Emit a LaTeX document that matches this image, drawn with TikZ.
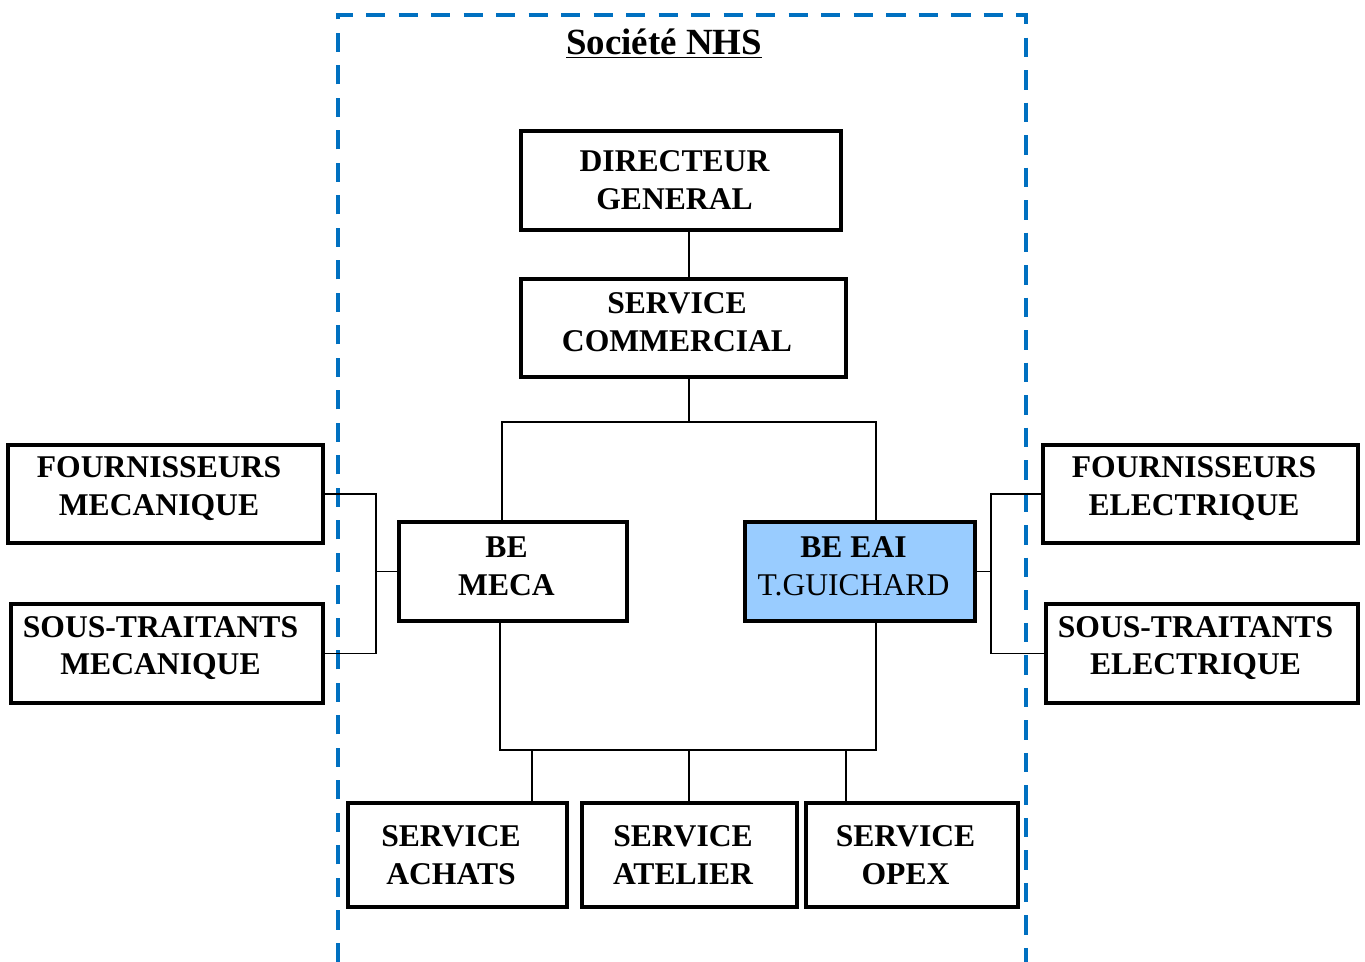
\documentclass[tikz,border=0pt]{standalone}
\usepackage{fontspec}
\setmainfont{Liberation Serif}
\usepackage{tikz}
\usetikzlibrary{positioning}
\definecolor{frameblue}{RGB}{0,112,192}
\definecolor{eaiblue}{RGB}{153,204,255}

\begin{document}
\begin{tikzpicture}[x=0.02cm,y=-0.02cm,
	boxtext/.style={align=center,inner sep=0pt,xshift=-0.13cm,yshift=0.11cm,
		font=\fontsize{18}{21.5}\selectfont\bfseries},
	unit/.style={draw,line width=2pt,inner sep=0pt,label={[boxtext]center:#1}},
	unitlow/.style={draw,line width=2pt,inner sep=0pt,label={[boxtext,yshift=-0.11cm]center:#1}},
	link/.style={line width=1.1pt}]
	\useasboundingbox (0,0) rectangle (1365,962);
	\draw[color=frameblue,line width=2.2pt,dash pattern=on 11pt off 7.5pt] (338,962) -- (338,15) -- (1026,15) -- (1026,962);
	\node[font=\fontsize{21}{24}\selectfont\bfseries] (title) at (664,44) {\underline{Société NHS}};
							\node[unitlow={DIRECTEUR\\GENERAL},minimum width=6.4cm,minimum height=1.98cm] (dg) at (681,180.5) {};
							\node[unit={SERVICE\\COMMERCIAL},minimum width=6.5cm,minimum height=1.96cm] (sc) at (683.5,328) {};
							\node[unit={FOURNISSEURS\\MECANIQUE},minimum width=6.3cm,minimum height=1.96cm] (fm) at (165.5,494) {};
							\node[unit={SOUS-TRAITANTS\\MECANIQUE},minimum width=6.24cm,minimum height=1.98cm] (stm) at (167,653.5) {};
							\node[unit={BE\\MECA},minimum width=4.56cm,minimum height=1.98cm] (bem) at (513,571.5) {};
							\node[unit={BE EAI\\\mdseries T.GUICHARD},fill=eaiblue,minimum width=4.6cm,minimum height=1.98cm] (bee) at (860,571.5) {};
							\node[unit={FOURNISSEURS\\ELECTRIQUE},minimum width=6.3cm,minimum height=1.96cm] (fe) at (1200.5,494) {};
							\node[unit={SOUS-TRAITANTS\\ELECTRIQUE},minimum width=6.24cm,minimum height=1.98cm] (ste) at (1202,653.5) {};
							\node[unitlow={SERVICE\\ACHATS},minimum width=4.38cm,minimum height=2.08cm] (ach) at (457.5,855) {};
							\node[unitlow={SERVICE\\ATELIER},minimum width=4.3cm,minimum height=2.08cm] (atl) at (689.5,855) {};
							\node[unitlow={SERVICE\\OPEX},minimum width=4.24cm,minimum height=2.08cm] (opx) at (912,855) {};
	\coordinate (spine) at (689,422);
	\coordinate (upper left) at (502,422);
	\coordinate (upper right) at (876,422);
	\coordinate (lower left) at (500,750);
	\coordinate (lower right) at (876,750);
	\coordinate (left bar) at (376,576);
	\coordinate (right bar) at (991,566);
					\draw[link] (dg.south -| spine) -- (sc.north -| spine);
					\draw[link] (sc.south -| spine) -- (spine);
					\draw[link] (bem.north -| upper left) -- (upper left) -- (upper right) -- (bee.north -| upper right);
					\draw[link] (bem.south -| lower left) -- (lower left) -- (lower right) -- (bee.south -| lower right);
	\foreach \n/\x in {ach/532,atl/689,opx/846}{
		\coordinate (drop) at (\x,750);
		\draw[link] (drop) -- (\n.north -| drop);
	}
					\draw[link] (fm.east) -- (fm.east -| left bar) -- (stm.east -| left bar) -- (stm.east);
					\draw[link] (bem.west -| left bar) -- (bem.west);
					\draw[link] (bee.east) -- (bee.east -| right bar);
					\draw[link] (fe.west) -- (fe.west -| right bar) -- (ste.west -| right bar) -- (ste.west);
\end{tikzpicture}
\end{document}
